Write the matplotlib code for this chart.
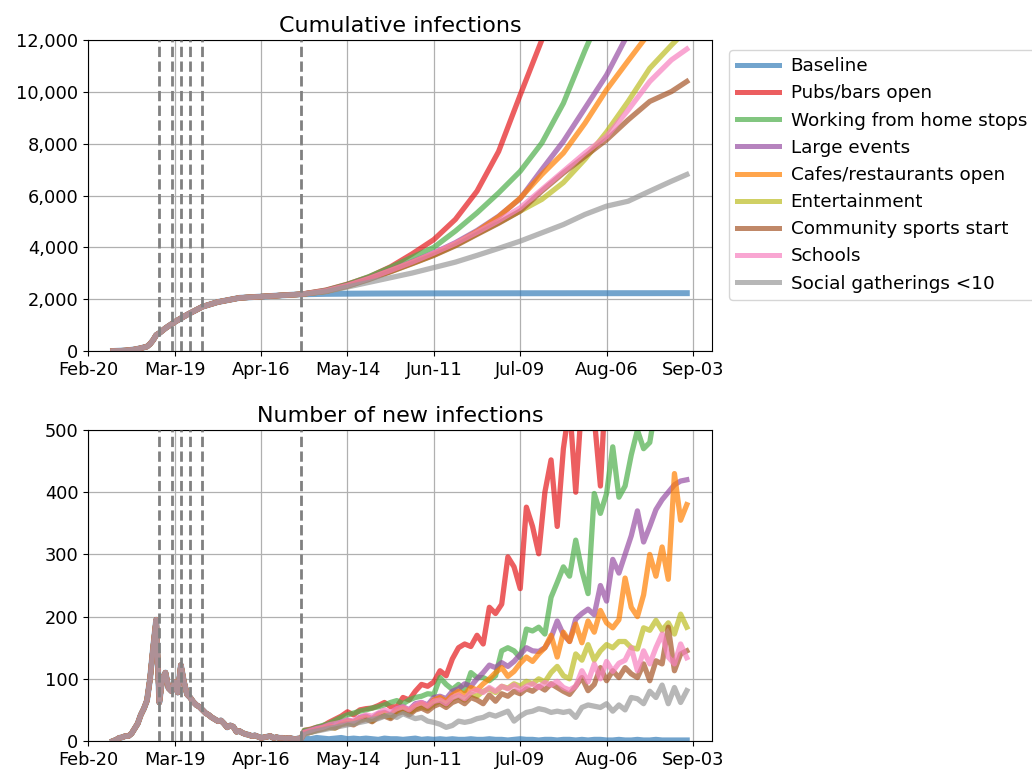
import matplotlib
matplotlib.use("Agg")
import matplotlib.pyplot as plt
import matplotlib.dates as mdates
from matplotlib.ticker import FuncFormatter, MultipleLocator
from datetime import datetime, timedelta

# ---------------- data ----------------
start_date = datetime(2020, 2, 20)

scenario_names = ["Baseline", "Pubs/bars open", "Working from home stops", "Large events",
                  "Cafes/restaurants open", "Entertainment", "Community sports start",
                  "Schools", "Social gatherings <10"]
colors = ["#377eb8", "#e41a1c", "#4daf4a", "#984ea3", "#ff7f00",
          "#bcbd22", "#a65628", "#f781bf", "#999999"]

intervention_days = [23, 27, 30, 33, 37, 69]     # days after Feb-20
tick_days = [0, 28, 56, 84, 112, 140, 168, 196]

# cumulative infections: shared part, then per scenario
early_cum_days = [8, 12, 15, 17, 19, 20, 21, 22, 23, 25, 28, 32, 37, 42, 49, 56, 63, 69]
early_cum = [0, 20, 60, 110, 170, 270, 420, 615, 690, 880, 1120, 1400, 1710, 1890,
             2050, 2100, 2150, 2190]
late_cum_days = [77, 84, 91, 98, 105, 112, 119, 126, 133, 140, 147, 154, 161, 168,
                 175, 182, 189, 194]
cum_baseline = [2205, 2212, 2217, 2220, 2222, 2224, 2225, 2226, 2227, 2228, 2229, 2229,
                2230, 2230, 2231, 2231, 2232, 2232]
cum_pubs = [2350, 2580, 2860, 3250, 3750, 4300, 5080, 6170, 7700, 9880, 12000, 14500,
            17500, 21000, 24500, 28000, 31500, 33500]
cum_wfh = [2340, 2570, 2870, 3230, 3620, 4000, 4630, 5330, 6100, 6935, 8025, 9560,
           11600, 13500, 15500, 17500, 19500, 21000]
cum_large = [2320, 2530, 2800, 3110, 3440, 3780, 4180, 4650, 5200, 5880, 7000, 8090,
             9370, 10650, 12250, 13800, 15400, 16300]
cum_cafes = [2310, 2520, 2790, 3100, 3420, 3740, 4130, 4610, 5180, 5900, 6810, 7640,
             8790, 10080, 11200, 12300, 13500, 14300]
cum_ent = [2300, 2500, 2770, 3070, 3380, 3700, 4080, 4520, 4950, 5400, 5850, 6500,
           7400, 8450, 9630, 10910, 11800, 12400]
cum_sports = [2300, 2500, 2760, 3060, 3370, 3690, 4060, 4500, 4930, 5400, 6170, 6870,
              7510, 8150, 8920, 9630, 10010, 10400]
cum_schools = [2320, 2530, 2800, 3110, 3430, 3780, 4150, 4580, 5030, 5525, 6230, 6935,
               7640, 8280, 9300, 10400, 11230, 11650]
cum_social = [2290, 2470, 2650, 2830, 3010, 3220, 3430, 3690, 3960, 4240, 4560, 4880,
              5270, 5590, 5780, 6170, 6550, 6810]

# new infections: shared daily part (day 8..69), then every 2nd day per scenario
early_new_days = list(range(8, 70))
early_new = [0, 2, 5, 6, 8, 8, 12, 20, 28, 42, 52, 65, 100, 150, 195, 62, 100, 110, 85, 80,
             95, 78, 122, 95, 75, 70, 63, 58, 55, 50, 45, 42, 38, 35, 32, 33, 28, 22, 25, 23,
             15, 16, 13, 11, 10, 8, 9, 7, 5, 6, 7, 8, 5, 6, 5, 5, 4, 5, 4, 3, 4, 4]
late_new_days = list(range(70, 195, 2))
new_baseline = [4, 3, 5, 4, 3, 4, 5, 3, 4, 3, 4, 3, 2, 4, 3, 3, 2, 3, 4, 2,
                3, 2, 3, 2, 3, 2, 2, 3, 2, 2, 3, 2, 2, 1, 2, 3, 2, 2, 1, 2,
                2, 1, 2, 2, 1, 2, 1, 2, 2, 1, 1, 2, 1, 1, 2, 1, 1, 2, 1, 1, 1, 1, 1]
new_pubs = [17, 19, 22, 24, 30, 35, 40, 47, 42, 50, 52, 53, 57, 62, 55, 55, 70, 66, 80, 91,
            88, 95, 113, 105, 132, 150, 156, 152, 170, 156, 215, 205, 220, 296, 280, 245,
            376, 345, 301, 400, 452, 345, 470, 540, 400, 550, 580, 520, 410, 600, 620, 650,
            680, 700, 720, 750, 770, 790, 800, 820, 830, 850, 860]
new_wfh = [17, 18, 22, 25, 28, 33, 38, 42, 45, 48, 50, 53, 55, 58, 62, 65, 60, 66, 70, 72,
           76, 75, 102, 91, 83, 91, 81, 110, 102, 102, 97, 105, 145, 150, 145, 134, 180, 177,
           183, 172, 231, 255, 280, 265, 323, 274, 237, 398, 366, 398, 473, 392, 410, 460,
           500, 470, 480, 540, 560, 580, 600, 620, 630]
new_large = [14, 16, 20, 22, 25, 24, 30, 33, 31, 38, 40, 36, 44, 46, 42, 52, 55, 50, 60, 62,
             58, 70, 72, 68, 80, 84, 92, 88, 100, 110, 122, 118, 126, 120, 128, 139, 150, 145,
             144, 150, 166, 193, 171, 160, 196, 205, 212, 203, 250, 225, 292, 270, 300, 330,
             370, 320, 345, 372, 388, 400, 412, 418, 420]
new_cafes = [13, 15, 18, 21, 24, 22, 28, 32, 30, 36, 38, 34, 42, 45, 40, 50, 53, 48, 56, 60,
             55, 66, 70, 64, 74, 80, 75, 86, 82, 92, 100, 110, 118, 104, 112, 125, 135, 128,
             140, 150, 170, 135, 175, 160, 188, 158, 193, 175, 210, 190, 182, 195, 262, 215,
             200, 235, 300, 265, 312, 260, 430, 355, 380]
new_ent = [12, 14, 17, 20, 22, 21, 27, 30, 28, 34, 36, 32, 40, 42, 38, 46, 50, 45, 52, 55,
           52, 60, 64, 58, 68, 72, 66, 76, 72, 80, 84, 78, 88, 85, 92, 88, 96, 92, 100, 95,
           110, 120, 105, 100, 140, 130, 155, 130, 145, 155, 150, 160, 160, 150, 148, 182,
           178, 194, 178, 190, 172, 204, 183]
new_sports = [12, 14, 17, 19, 22, 21, 26, 28, 26, 32, 35, 31, 38, 40, 36, 44, 47, 42, 50, 53,
              48, 56, 60, 54, 62, 66, 60, 70, 66, 60, 74, 64, 76, 72, 80, 76, 84, 80, 88, 82,
              92, 86, 80, 75, 88, 102, 81, 91, 118, 97, 113, 102, 118, 108, 102, 124, 97, 129,
              124, 183, 113, 140, 145]
new_schools = [14, 17, 20, 22, 26, 28, 30, 34, 32, 38, 42, 40, 45, 50, 46, 52, 55, 50, 58, 62,
               56, 64, 66, 60, 70, 74, 68, 78, 82, 78, 86, 80, 88, 84, 90, 82, 88, 92, 86, 94,
               90, 96, 86, 82, 88, 113, 95, 124, 100, 128, 112, 125, 130, 150, 113, 145, 124,
               150, 172, 135, 124, 156, 134]
new_social = [10, 14, 16, 18, 20, 22, 24, 26, 28, 30, 32, 35, 36, 40, 42, 38, 44, 40, 36, 38,
              32, 30, 27, 22, 25, 32, 30, 32, 36, 38, 43, 40, 44, 48, 32, 40, 46, 48, 52, 50,
              46, 48, 46, 48, 38, 54, 58, 56, 54, 60, 48, 58, 50, 70, 68, 60, 80, 70, 90, 60,
              86, 62, 81]

cum_series = [cum_baseline, cum_pubs, cum_wfh, cum_large, cum_cafes, cum_ent,
              cum_sports, cum_schools, cum_social]
new_series = [new_baseline, new_pubs, new_wfh, new_large, new_cafes, new_ent,
              new_sports, new_schools, new_social]


def to_dates(days):
    return [start_date + timedelta(days=int(d)) for d in days]


# ---------------- figure ----------------
plt.rcParams["font.family"] = "DejaVu Sans"
fig = plt.figure(figsize=(10.32, 7.74), dpi=100)
ax1 = fig.add_axes([0.0856, 0.5465, 0.6044, 0.4018])
ax2 = fig.add_axes([0.0856, 0.0426, 0.6044, 0.4018])

cum_x = to_dates(early_cum_days + late_cum_days)
new_x = to_dates(early_new_days + late_new_days)

for name, col, cs, ns in zip(scenario_names, colors, cum_series, new_series):
    lw = 4.3 if name == "Baseline" else 3.8
    ax1.plot(cum_x, early_cum + cs, color=col, alpha=0.7, lw=lw, label=name)
    ax2.plot(new_x, early_new + ns, color=col, alpha=0.7, lw=lw, label=name)

for ax in (ax1, ax2):
    for d in intervention_days:
        ax.axvline(start_date + timedelta(days=d), color="#808080", ls="--", lw=2, zorder=5)
    ax.set_xlim(start_date, start_date + timedelta(days=202.2))
    ax.set_xticks(to_dates(tick_days))
    ax.xaxis.set_major_formatter(mdates.DateFormatter("%b-%d"))
    ax.grid(True, color="#b0b0b0", lw=0.9)
    ax.tick_params(labelsize=12.8)

ax1.set_ylim(0, 12000)
ax1.yaxis.set_major_locator(MultipleLocator(2000))
ax1.yaxis.set_major_formatter(FuncFormatter(lambda v, p: f"{int(v):,}"))
ax1.set_title("Cumulative infections", fontsize=16)

ax2.set_ylim(0, 500)
ax2.yaxis.set_major_locator(MultipleLocator(100))
ax2.set_title("Number of new infections", fontsize=16)

leg = ax1.legend(loc="upper left", bbox_to_anchor=(1.0276, 0.968), fontsize=13.2,
                 borderaxespad=0.0, handlelength=2.3, handletextpad=0.65)
for h in leg.get_lines():
    h.set_linewidth(3.6)

fig.savefig("out.png", dpi=100)
